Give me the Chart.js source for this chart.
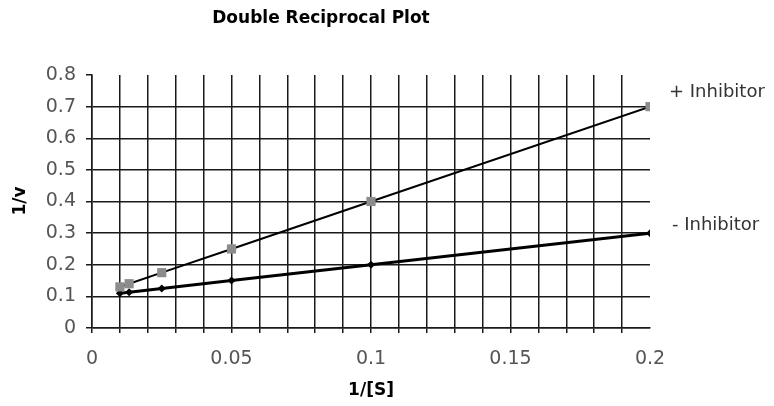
<!DOCTYPE html>
<html>
<head>
<meta charset="utf-8">
<script src="https://cdn.jsdelivr.net/npm/chart.js@4"></script>
<style>
  html, body { margin: 0; padding: 0; background: #fff; }
  #wrap { width: 774px; height: 406px; }
</style>
</head>
<body>
<div id="wrap"><canvas id="chart" width="774" height="406"></canvas></div>
<script>
// ---------- data ----------
const invS = [0.01, 0.0133, 0.025, 0.05, 0.1, 0.2];
const withInhibitor = [0.13, 0.14, 0.175, 0.25, 0.4, 0.7];
const noInhibitor = [0.11, 0.113, 0.125, 0.15, 0.2, 0.3];
const seriesNames = ['+ Inhibitor', '- Inhibitor'];
const xLabelTicks = [0, 0.05, 0.1, 0.15, 0.2];

const FONT = "'DejaVu Sans', sans-serif";
const INK = '#1a1a1a';

const pts = ys => invS.map((x, i) => ({ x, y: ys[i] }));
const near = (a, b) => Math.abs(a - b) < 1e-9;

// text that sits outside the plot area
const textPlugin = {
    id: 'texts',
    afterDraw(chart) {
        const { ctx, chartArea: a, scales } = chart;
        ctx.save();
        ctx.fillStyle = '#000';
        ctx.textAlign = 'center';
        ctx.textBaseline = 'alphabetic';

        ctx.font = 'bold 17px ' + FONT;
        ctx.fillText('Double Reciprocal Plot', 321, 23);

        ctx.font = 'bold 17px ' + FONT;
        ctx.fillText('1/[S]', (a.left + a.right) / 2, 395);

        ctx.save();
        ctx.translate(25, 201);
        ctx.rotate(-Math.PI / 2);
        ctx.fillText('1/v', 0, 0);
        ctx.restore();

        // series labels next to the last points
        ctx.font = '18px ' + FONT;
        ctx.fillStyle = '#333';
        ctx.textAlign = 'left';
        ctx.textBaseline = 'middle';
        const lastX = invS[invS.length - 1];
        const xp = scales.x.getPixelForValue(lastX);
        ctx.fillText(seriesNames[0], xp + 19, scales.y.getPixelForValue(withInhibitor[withInhibitor.length - 1]) - 14);
        ctx.fillText(seriesNames[1], xp + 22, scales.y.getPixelForValue(noInhibitor[noInhibitor.length - 1]) - 8);
        ctx.restore();
    }
};

new Chart(document.getElementById('chart'), {
    type: 'scatter',
    data: {
        datasets: [
            {
                label: seriesNames[0],
                data: pts(withInhibitor),
                showLine: true,
                borderColor: '#000',
                borderWidth: 2,
                pointStyle: 'rect',
                pointRadius: 6.5,
                pointBackgroundColor: '#8c8c8c',
                pointBorderColor: '#8c8c8c',
                pointBorderWidth: 0
            },
            {
                label: seriesNames[1],
                data: pts(noInhibitor),
                showLine: true,
                borderColor: '#000',
                borderWidth: 3,
                pointStyle: 'rectRot',
                pointRadius: 4,
                pointBackgroundColor: '#000',
                pointBorderColor: '#000',
                pointBorderWidth: 0
            }
        ]
    },
    options: {
        responsive: false,
        animation: false,
        layout: { padding: { left: 0, right: 124, top: 75, bottom: 0 } },
        plugins: {
            legend: { display: false },
            tooltip: { enabled: false }
        },
        scales: {
            x: {
                type: 'linear',
                min: 0, max: 0.2,
                afterFit: s => { s.height = 78; },
                grid: {
                    color: c => near(c.tick.value, 0.2) ? 'transparent' : INK,
                    tickColor: c => near(c.tick.value, 0.2) ? 'transparent' : INK,
                    lineWidth: 1.5,
                    tickLength: 5
                },
                border: { color: INK, width: 1.5 },
                ticks: {
                    stepSize: 0.01,
                    autoSkip: false,
                    maxRotation: 0,
                    padding: 15,
                    color: '#555',
                    font: { family: FONT, size: 19 },
                    callback: v => xLabelTicks.some(t => near(t, v)) ? String(+v.toFixed(2)) : ''
                }
            },
            y: {
                type: 'linear',
                min: 0, max: 0.8,
                afterFit: s => { s.width = 92; },
                grid: {
                    color: c => near(c.tick.value, 0.8) ? 'transparent' : INK,
                    tickColor: INK,
                    lineWidth: 1.5,
                    tickLength: 6
                },
                border: { color: INK, width: 1.5 },
                ticks: {
                    stepSize: 0.1,
                    padding: 10,
                    color: '#555',
                    font: { family: FONT, size: 19 },
                    callback: v => String(+v.toFixed(1))
                }
            }
        }
    },
    plugins: [textPlugin]
});
</script>
</body>
</html>
